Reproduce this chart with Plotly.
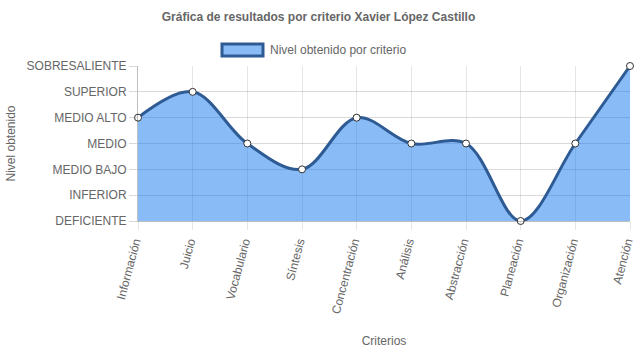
import plotly.graph_objects as go

criterios = ["Información", "Juicio", "Vocabulario", "Síntesis", "Concentración",
             "Análisis", "Abstracción", "Planeación", "Organización", "Atención"]
niveles = [4, 5, 3, 2, 4, 3, 3, 0, 3, 6]
nivel_labels = ["DEFICIENTE", "INFERIOR", "MEDIO BAJO", "MEDIO", "MEDIO ALTO",
                "SUPERIOR", "SOBRESALIENTE"]
serie_nombre = "Nivel obtenido por criterio"

FONT = "Liberation Sans, Arial, sans-serif"
GRAY = "#666666"
FILL = "rgba(20,120,240,0.5)"
LINE = "#2e5b94"

W, H = 637, 348
L, R, T, B = 138, 7, 66, 127
PW, PH = W - L - R, H - T - B


def px_x(p):
    return (p - L) / PW


def px_y(p):
    return (H - B - p) / PH


fig = go.Figure()
fig.add_trace(go.Scatter(
    x=criterios, y=niveles, mode="lines+markers", fill="tozeroy",
    fillcolor=FILL, line=dict(color=LINE, width=3, shape="spline", smoothing=1.0),
    marker=dict(size=7, color="white", line=dict(color="#333333", width=1)),
    showlegend=False, hoverinfo="x+y", cliponaxis=False, name=serie_nombre,
))

# legend swatch + label (Chart.js style box legend)
fig.add_shape(type="rect", xref="paper", yref="paper",
              x0=px_x(222), x1=px_x(263), y0=px_y(56), y1=px_y(44),
              fillcolor=FILL, line=dict(color=LINE, width=3), layer="above")
fig.add_annotation(text=serie_nombre, xref="paper", yref="paper",
                   x=px_x(268), y=px_y(50), xanchor="left", yanchor="middle",
                   showarrow=False, font=dict(size=12, color=GRAY))

fig.update_layout(
    width=W, height=H,
    margin=dict(l=L, r=R, t=T, b=B),
    paper_bgcolor="white", plot_bgcolor="white",
    font=dict(family=FONT, size=12, color=GRAY),
    title=dict(text="<b>Gráfica de resultados por criterio Xavier López Castillo</b>",
               x=0.5, xref="container", xanchor="center",
               y=1 - 17 / H, yref="container", yanchor="middle",
               font=dict(size=12, color=GRAY)),
    showlegend=False,
)
fig.update_xaxes(
    range=[0, 9], showgrid=True, gridcolor="rgba(0,0,0,0.1)", gridwidth=1,
    tickangle=-75, ticks="outside", ticklen=8, tickcolor="rgba(0,0,0,0.1)",
    ticklabelshift=-3,
    tickfont=dict(size=12, color=GRAY), showline=True, linecolor="rgba(0,0,0,0.25)",
    title=dict(text="Criterios", font=dict(size=12, color=GRAY), standoff=25),
    zeroline=False, automargin=False,
)
fig.update_yaxes(
    range=[0, 6], tickvals=list(range(len(nivel_labels))), ticktext=nivel_labels,
    showgrid=True, gridcolor="rgba(0,0,0,0.15)", gridwidth=1,
    ticks="outside", ticklen=8, tickcolor="rgba(0,0,0,0.15)",
    tickfont=dict(size=12, color=GRAY), showline=True, linecolor="rgba(0,0,0,0.25)",
    title=dict(text="Nivel obtenido", font=dict(size=12, color=GRAY), standoff=8),
    zeroline=False, automargin=False,
)
fig.write_html("out.html")
